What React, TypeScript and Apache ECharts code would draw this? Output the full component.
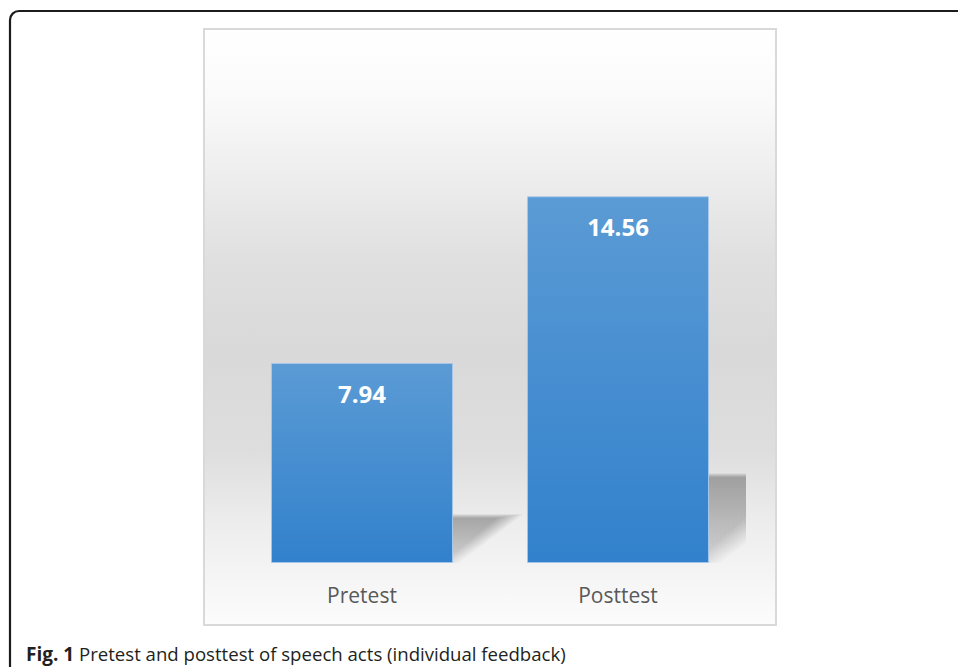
import React, { useEffect, useRef } from "react";
import * as echarts from "echarts";

// Mean scores of speech acts, individual feedback group
const categories = ["Pretest", "Posttest"];
const scores = [7.94, 14.56];

const captionLead = "Fig. 1";
const captionText = " Pretest and posttest of speech acts (individual feedback)";

const BAR_RATIO = 0.711; // bar width as a share of the category band
const SHADOW_LAYERS = 9;

export default function App() {
  const ref = useRef<HTMLDivElement>(null);

  useEffect(() => {
    if (!ref.current) return;
    const chart = echarts.init(ref.current, null, { renderer: "svg" });

    const option: any = {
      animation: false,
      backgroundColor: "#ffffff",
      grid: { left: 234, right: 212, top: 160, bottom: 104, containLabel: false },
      xAxis: {
        type: "category",
        data: categories,
        axisLine: { show: false },
        axisTick: { show: false },
        axisLabel: {
          margin: 21,
          color: "#595959",
          fontFamily: "Open Sans",
          fontSize: 21,
          lineHeight: 21,
        },
      },
      yAxis: {
        type: "value",
        min: 0,
        max: 16,
        show: false,
        splitLine: { show: false },
      },
      graphic: [
        {
          type: "rect",
          z: -10,
          shape: { x: 10, y: 11, width: 1000, height: 720, r: 9 },
          style: { fill: "#ffffff", stroke: "#1c1c1c", lineWidth: 2.2 },
          silent: true,
        },
        {
          type: "rect",
          z: -9,
          shape: { x: 204, y: 29, width: 572, height: 596 },
          style: {
            stroke: "#d9d9d9",
            lineWidth: 2,
            fill: new echarts.graphic.LinearGradient(0, 0, 0, 1, [
              { offset: 0, color: "#ffffff" },
              { offset: 0.12, color: "#fafafa" },
              { offset: 0.25, color: "#ededed" },
              { offset: 0.38, color: "#e0e0e0" },
              { offset: 0.54, color: "#d9d9d9" },
              { offset: 0.71, color: "#dedede" },
              { offset: 0.83, color: "#ededed" },
              { offset: 1, color: "#fcfcfc" },
            ]),
          },
          silent: true,
        },
        {
          type: "text",
          z: 10,
          left: 26,
          top: 644,
          style: {
            rich: {
              b: { fontWeight: "bold", fontSize: 19, fontFamily: "Open Sans", fill: "#231f20" },
              n: { fontSize: 18.6, fontFamily: "Open Sans", fill: "#231f20" },
            },
            text: `{b|${captionLead}}{n|${captionText}}`,
          },
        },
      ],
      series: [
        {
          // soft floor shadow cast to the right of each bar, built from stacked translucent layers
          type: "custom",
          z: 1,
          clip: true,
          silent: true,
          data: scores.map((v, i) => [i, v]),
          renderItem: (params: any, api: any) => {
            const idx = api.value(0);
            const v = api.value(1);
            const top = api.coord([idx, v]);
            const base = api.coord([idx, 0]);
            const band = api.size([1, 0])[0];
            const xr = base[0] + (band * BAR_RATIO) / 2;
            const y0 = base[1];
            const H = y0 - top[1];
            const h = H * 0.245;
            const d = H * 0.35;
            const step = H * 0.016;
            const children = [];
            for (let k = 0; k < SHADOW_LAYERS; k++) {
              const pull = k * step;
              children.push({
                type: "polygon",
                shape: {
                  points: [
                    [xr, y0],
                    [xr, y0 - h + k * 0.5],
                    [xr + d - pull, y0 - h + k * 0.5],
                    [xr + H * 0.03 - pull * 0.4, y0 - k * 0.6],
                  ],
                },
                style: {
                  fill: new echarts.graphic.LinearGradient(0, 0, 0, 1, [
                    { offset: 0, color: "rgba(0,0,0,0.04)" },
                    { offset: 1, color: "rgba(0,0,0,0.016)" },
                  ]),
                },
              });
            }
            return { type: "group", children };
          },
        },
        {
          type: "bar",
          z: 2,
          data: scores,
          barWidth: `${BAR_RATIO * 100}%`,
          itemStyle: {
            color: new echarts.graphic.LinearGradient(0, 0, 0, 1, [
              { offset: 0, color: "#5b9bd5" },
              { offset: 1, color: "#3281cc" },
            ]),
            borderColor: "rgba(170,200,235,0.8)",
            borderWidth: 1,
          },
          label: {
            show: true,
            position: "insideTop",
            distance: 18,
            color: "#ffffff",
            fontFamily: "Open Sans",
            fontWeight: "bold",
            fontSize: 24,
            lineHeight: 24,
            formatter: (p: any) => p.value.toFixed(2),
          },
        },
      ],
    };

    chart.setOption(option);
    return () => chart.dispose();
  }, []);

  return (
    <div
      ref={ref}
      style={{ position: "fixed", left: 0, top: 0, width: 958, height: 667 }}
    />
  );
}
